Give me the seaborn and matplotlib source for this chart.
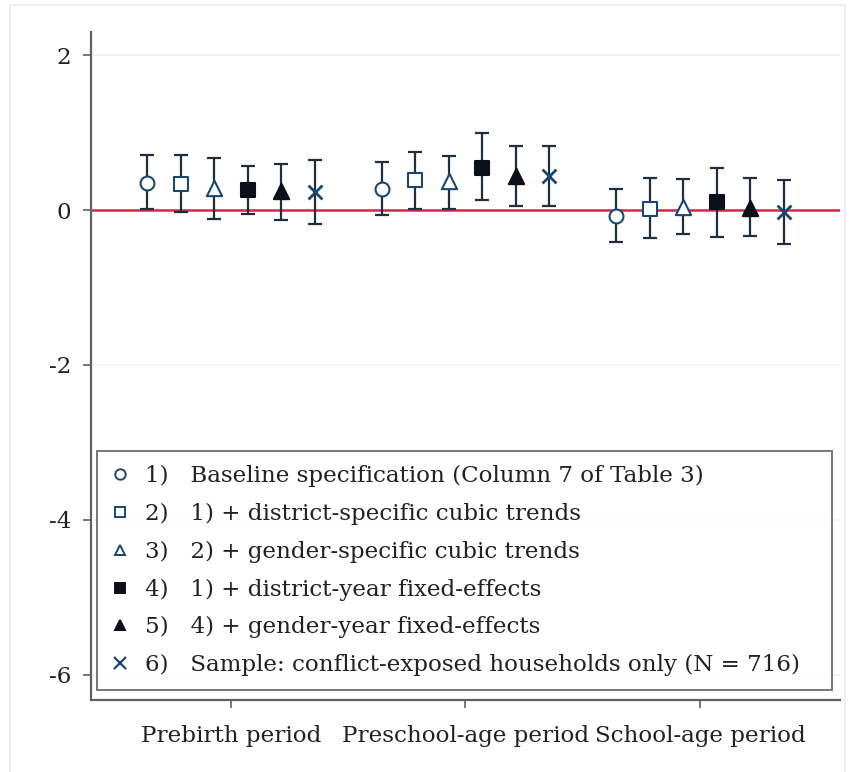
import numpy as np
import pandas as pd
import matplotlib
matplotlib.use("Agg")
import matplotlib.pyplot as plt
from matplotlib.lines import Line2D
from matplotlib.patches import Rectangle
import seaborn as sns

# ---------------- data ----------------
periods = ["Prebirth period", "Preschool-age period", "School-age period"]
spec_labels = [
    "1)   Baseline specification (Column 7 of Table 3)",
    "2)   1) + district-specific cubic trends",
    "3)   2) + gender-specific cubic trends",
    "4)   1) + district-year fixed-effects",
    "5)   4) + gender-year fixed-effects",
    "6)   Sample: conflict-exposed households only (N = 716)",
]
est_prebirth = [0.35, 0.34, 0.29, 0.26, 0.245, 0.23]
lo_prebirth = [0.01, -0.02, -0.11, -0.05, -0.13, -0.185]
hi_prebirth = [0.71, 0.71, 0.675, 0.57, 0.59, 0.645]
est_preschool = [0.27, 0.39, 0.375, 0.54, 0.44, 0.44]
lo_preschool = [-0.065, 0.013, 0.013, 0.13, 0.05, 0.056]
hi_preschool = [0.62, 0.75, 0.70, 0.99, 0.826, 0.826]
est_school = [-0.077, 0.017, 0.043, 0.10, 0.03, -0.02]
lo_school = [-0.41, -0.36, -0.31, -0.35, -0.34, -0.44]
hi_school = [0.275, 0.41, 0.395, 0.54, 0.41, 0.39]
yticks = [2, 0, -2, -4, -6]

# ---------------- style ----------------
sns.set_theme(style="white")
plt.rcParams["font.family"] = ["DejaVu Serif"]
FS = 16.6

navy = "#1a476f"
dark = "#1f2d3d"
black = "#0b0f1a"
styles = [
    dict(marker="o", face="white", edge=navy, size=10),
    dict(marker="s", face="white", edge=navy, size=10),
    dict(marker="^", face="white", edge=navy, size=11),
    dict(marker="s", face=black, edge=black, size=10),
    dict(marker="^", face=black, edge=black, size=11),
    dict(marker="x", face=navy, edge=navy, size=10),
]

rows = []
for gi, (est, lo, hi) in enumerate([(est_prebirth, lo_prebirth, hi_prebirth),
                                     (est_preschool, lo_preschool, hi_preschool),
                                     (est_school, lo_school, hi_school)]):
    for si in range(6):
        rows.append(dict(period=periods[gi], gi=gi + 1, si=si,
                         est=est[si], lo=lo[si], hi=hi[si]))
df = pd.DataFrame(rows)
df["xpos"] = df["gi"] + (df["si"] - 2.5) / 7.0

fig = plt.figure(figsize=(8.54, 7.72), dpi=100)
ax = fig.add_axes([91 / 854, 72 / 772, (840 - 91) / 854, (700 - 32) / 772])

# faint outer frame
fig.patches.append(Rectangle((10 / 854, -0.05), (845 - 10) / 854, (772 - 5) / 772 + 0.05,
                             transform=fig.transFigure, fill=False,
                             edgecolor="#ececec", linewidth=1.2, zorder=0))

ax.set_xlim(0.404, 3.596)
ax.set_ylim(-6.323, 2.297)

for y in yticks:
    ax.axhline(y, color="#f1f1f1", lw=1.2, zorder=0)
ax.axhline(0, color="#d4294f", lw=1.8, zorder=1)

for si in range(6):
    d = df[df["si"] == si]
    ax.errorbar(d["xpos"], d["est"], yerr=[d["est"] - d["lo"], d["hi"] - d["est"]],
                fmt="none", ecolor=dark, elinewidth=1.6, capsize=5, capthick=1.6, zorder=2)
    st = styles[si]
    if st["marker"] == "x":
        sns.scatterplot(data=d, x="xpos", y="est", marker="x", color=navy,
                        s=st["size"] ** 2, linewidth=2.0, ax=ax, zorder=3, legend=False)
    else:
        sns.scatterplot(data=d, x="xpos", y="est", marker=st["marker"],
                        facecolor=st["face"], edgecolor=st["edge"], color=st["face"],
                        s=st["size"] ** 2, linewidth=1.5, ax=ax, zorder=3, legend=False)

ax.set_xticks([1, 2, 3])
ax.set_xticklabels(periods, fontsize=FS, color="#222222")
ax.set_yticks(yticks)
ax.set_yticklabels([str(v) for v in yticks], fontsize=FS, color="#222222")
ax.set_xlabel("")
ax.set_ylabel("")
for s in ["top", "right"]:
    ax.spines[s].set_visible(False)
for s in ["left", "bottom"]:
    ax.spines[s].set_color("#606060")
    ax.spines[s].set_linewidth(1.6)
ax.tick_params(axis="both", which="both", length=6, width=1.2, color="#606060",
               direction="out", pad=8, left=True, bottom=True)
ax.tick_params(axis="x", pad=12)

handles = []
for si, st in enumerate(styles):
    if st["marker"] == "x":
        h = Line2D([], [], linestyle="none", marker="x", markersize=8,
                   markeredgecolor=navy, markeredgewidth=1.6)
    else:
        h = Line2D([], [], linestyle="none", marker=st["marker"], markersize=7.5,
                   markerfacecolor=st["face"], markeredgecolor=st["edge"],
                   markeredgewidth=1.4)
    handles.append(h)

leg = ax.legend(handles, spec_labels, loc="lower left",
                bbox_to_anchor=(0.008, 0.015, 0.981, 0.356), mode="expand",
                fontsize=FS, frameon=True, fancybox=False, handlelength=0.8,
                handletextpad=0.7, borderpad=0.6, labelspacing=0.68,
                borderaxespad=0.0, edgecolor="#555555")
leg.get_frame().set_linewidth(1.4)
for t in leg.get_texts():
    t.set_color("#222222")

fig.savefig("out.png", dpi=100, facecolor="white")
